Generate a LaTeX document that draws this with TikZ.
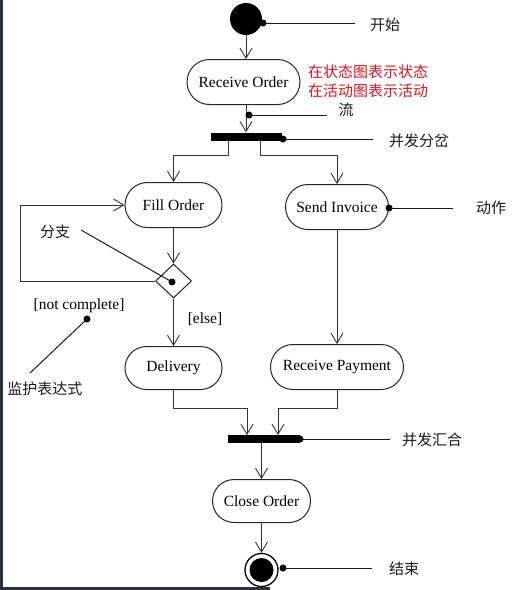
\documentclass[tikz,border=0pt]{standalone}
\usepackage{fontspec}
\setmainfont{Liberation Serif}
\newfontfamily\cjk{Noto Sans CJK SC}
\usetikzlibrary{shapes.misc,shapes.geometric,arrows.meta}
\definecolor{frameclr}{HTML}{2B3340}
\definecolor{notered}{HTML}{E3141C}
\begin{document}
\begin{tikzpicture}[x=1pt,y=-1pt,
  act/.style={draw=black!85, line width=1pt, rounded rectangle, inner sep=0pt,
    font=\fontsize{15.5}{18}\selectfont, text=black},
  flow/.style={draw=black!80, line width=0.9pt, -{Straight Barb[length=10pt,width=12pt,line width=0.9pt]}},
  bar/.style={fill=black, inner sep=0pt},
  note/.style={line width=1pt, draw=black!90},
  dot/.style={circle, fill=black, inner sep=0pt, minimum size=7pt},
  lbl/.style={font=\cjk\fontsize{15}{18}\selectfont, text=black!90},
  guard/.style={font=\fontsize{15.5}{18}\selectfont, text=black},
  redlbl/.style={font=\cjk\fontsize{15}{18}\selectfont, text=notered, anchor=west, inner sep=0pt}]
\useasboundingbox (0,0) rectangle (519,590);
\fill[white] (0,0) rectangle (519,590);
\fill[frameclr] (0,0) rectangle (3,590);
\fill[frameclr] (0,586.5) rectangle (270,590);

% nodes
\node[circle, fill=black, minimum size=32pt, inner sep=0pt] (start) at (246,19) {};
\node[act, minimum width=113pt, minimum height=45pt] (ro) at (243.5,82) {Receive Order};
\node[bar, minimum width=71pt, minimum height=8pt] (fork) at (246.5,136.5) {};
\node[act, minimum width=97pt, minimum height=45pt] (fo) at (173.5,205) {Fill Order};
\node[act, minimum width=103pt, minimum height=45pt] (si) at (337,207) {Send Invoice};
\node[diamond, draw=black!85, line width=1pt, minimum width=36pt, minimum height=34pt, inner sep=0pt] (dia) at (173.5,281) {};
\node[act, minimum width=97pt, minimum height=43pt] (del) at (173.5,368) {Delivery};
\node[act, minimum width=133pt, minimum height=45pt] (rp) at (337,367) {Receive Payment};
\node[bar, minimum width=72pt, minimum height=8pt] (join) at (264,439) {};
\node[act, minimum width=98pt, minimum height=43pt] (co) at (261.5,501) {Close Order};
\node[circle, draw=black, line width=1.3pt, minimum size=33pt, inner sep=0pt] (end) at (261.5,570) {};
\node[circle, fill=black, minimum size=24pt, inner sep=0pt] (endin) at (261.5,570) {};

% connectors
\coordinate (fl) at (228,140);
\coordinate (fr) at (260,140);
\coordinate (lp) at (20,281);
\coordinate (j1) at (247,435);
\coordinate (j2) at (278,435);
\draw[flow] (start.south) -- (start.south |- ro.north);
\draw[flow] (start.south |- ro.south) -- (start.south |- fork.north);
\draw[flow] (fl) -- ++(0,15) -| (fo.north);
\draw[flow] (fr) -- ++(0,15) -| (si.north);
\draw[flow] (fo.south) -- (dia.north);
\draw[flow] (dia.west) -- (lp) |- (fo.west);
\draw[flow] (dia.south) -- (del.north);
\draw[flow] (si.south) -- (rp.north);
\draw[flow] (del.south) -- ++(0,18) -| (j1);
\draw[flow] (rp.south) -- ++(0,18) -| (j2);
\draw[flow] (join.south -| co.north) -- (co.north);
\draw[flow] (co.south) -- (end.north);

% annotations
\node[dot] (d1) at (263,23) {};
\coordinate (e1) at (355,23);
\draw[note] (d1.center) -- (e1);
\node[lbl] (l1) at (385,25) {开始};

\node[redlbl] (r1) at (308,72) {在状态图表示状态};
\node[redlbl] (r2) at (308,91) {在活动图表示活动};

\node[dot] (d2) at (249,115) {};
\coordinate (e2) at (327,115);
\draw[note] (d2.center) -- (e2);
\node[lbl] (l2) at (346,110) {流};

\node[dot] (d3) at (283,139) {};
\coordinate (e3) at (373,139);
\draw[note] (d3.center) -- (e3);
\node[lbl] (l3) at (419,141) {并发分岔};

\node[dot] (d4) at (389,208) {};
\coordinate (e4) at (453,208);
\draw[note] (d4.center) -- (e4);
\node[lbl] (l4) at (491,208) {动作};

\node[dot] (d5) at (172,282) {};
\coordinate (e5) at (81,230);
\draw[note] (d5.center) -- (e5);
\node[lbl] (l5) at (55,232) {分支};

\node[guard] (g1) at (79,306) {[not complete]};
\node[dot] (d6) at (87,319) {};
\coordinate (e6) at (30,373);
\draw[note] (d6.center) -- (e6);
\node[lbl] (l6) at (45,389) {监护表达式};

\node[guard] (g2) at (205,319) {[else]};

\node[dot] (d7) at (300,439) {};
\coordinate (e7) at (390,439);
\draw[note] (d7.center) -- (e7);
\node[lbl] (l7) at (432,440) {并发汇合};

\node[dot] (d8) at (283,568) {};
\coordinate (e8) at (372,568);
\draw[note] (d8.center) -- (e8);
\node[lbl] (l8) at (404,569) {结束};
\end{tikzpicture}
\end{document}
